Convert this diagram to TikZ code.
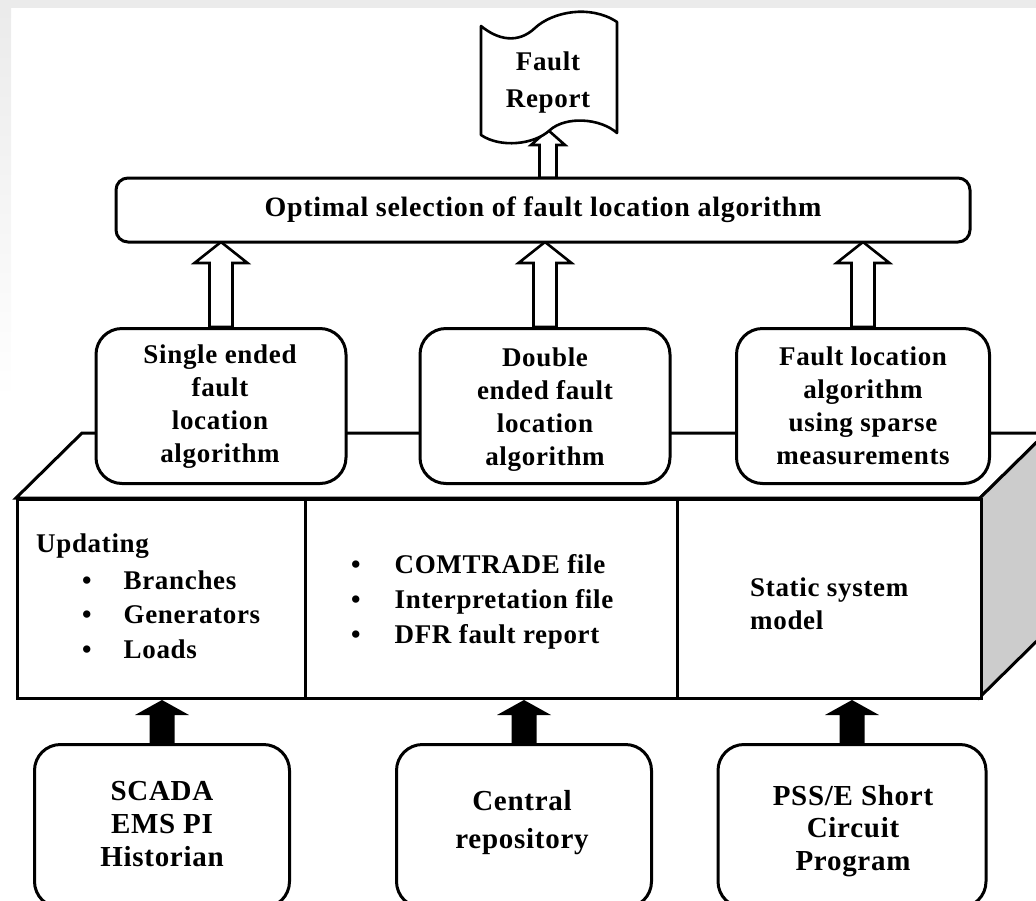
\documentclass[tikz,border=0pt]{standalone}
\usepackage{fontspec}
\setmainfont{Liberation Serif}[LetterSpace=2.5]
\usetikzlibrary{calc}
\definecolor{sideface}{HTML}{CCCCCC}
\definecolor{margin}{HTML}{EBEBEB}
% centred stack of lines whose reference point is the first baseline
\newcommand\stackc[1]{\begin{tabular}[t]{@{}c@{}}#1\end{tabular}}
\newcommand\stackl[1]{\begin{tabular}[t]{@{}l@{}}#1\end{tabular}}
% bullet list: bullet column, gap, item column
\newcommand\bulletlist[2]{\begin{tabular}[t]{@{}l@{\hspace{#1}}l@{}}#2\end{tabular}}
% block arrow: style, base, tip, body half width, head half width, head length
\newcommand\blockarrow[6]{%
  \path[#1] let \p1=(#2), \p2=(#3) in
    (\x1-#4pt,\y1) -- (\x1-#4pt,\y2-#6pt) -- (\x1-#5pt,\y2-#6pt) -- (\x1,\y2)
    -- (\x1+#5pt,\y2-#6pt) -- (\x1+#4pt,\y2-#6pt) -- (\x1+#4pt,\y1) -- cycle;}
\begin{document}
\begin{tikzpicture}[x=1pt,y=-1pt,
  txt/.style={font=\bfseries\fontsize{27}{33}\selectfont, inner sep=0pt},
  edge/.style={line width=3pt, line join=miter},
  rbox/.style={draw, line width=3pt, fill=white, rounded corners=26pt, inner sep=0pt},
  hollow/.style={draw, line width=2.6pt, fill=white, line join=miter},
  solidarrow/.style={fill=black}]
\useasboundingbox (0,0) rectangle (1036,900);
\clip (0,0) rectangle (1036,900);

% faint margin along the top and left edges
\fill[margin] (0,0) rectangle (1036,8);
\shade[top color=margin, bottom color=white] (0,8) rectangle (11,400);

% the slab: top face, shaded side face, front face
\coordinate (ftl) at (16,498);
\coordinate (ftr) at (980,498);
\coordinate (fbr) at (980,697);
\coordinate (btl) at (82,433);
\coordinate (btr) at (1046,433);
\coordinate (bbr) at (1046,632);
\draw[edge, fill=white] (ftl) -- (btl) -- (btr) -- (ftr) -- cycle;
\draw[edge, fill=sideface] (ftr) -- (btr) -- (bbr) -- (fbr) -- cycle;
\node[draw, line width=3pt, fill=white, inner sep=0pt, minimum width=964pt,
      minimum height=199pt, anchor=north west] (front) at (ftl) {};
\draw[edge] (305,498) -- (305,697);
\draw[edge] (677,498) -- (677,697);

% algorithm boxes standing on the slab
\coordinate (a1) at (221,327);
\coordinate (a2) at (545,327);
\coordinate (a3) at (863,327);
\blockarrow{hollow}{a1}{a1 |- 0,242}{11.5}{26.5}{21}
\blockarrow{hollow}{a2}{a2 |- 0,242}{11.5}{26.5}{21}
\blockarrow{hollow}{a3}{a3 |- 0,242}{11.5}{26.5}{21}
\node[rbox, minimum width=250pt, minimum height=155pt, anchor=north] (alg1) at (a1) {};
\node[rbox, minimum width=250pt, minimum height=155pt, anchor=north] (alg2) at (a2) {};
\node[rbox, minimum width=253pt, minimum height=155pt, anchor=north] (alg3) at (a3) {};

% report arrow and selection box
\coordinate (reptip) at (548,130);
\blockarrow{hollow}{548,178}{reptip}{8.5}{17}{15}
\node[rbox, rounded corners=12pt, minimum width=854pt, minimum height=64pt] (opt) at (543,210) {};

% fault report document
\draw[line width=2.6pt, fill=white, line join=round]
  (481,26) .. controls (498,40) and (518,44) .. (535,28)
  .. controls (552,12) and (590,4) .. (617,22) -- (617,133)
  .. controls (600,118) and (566,116) .. (550,130)
  .. controls (534,145) and (500,148) .. (481,135) -- cycle;

% data sources below the slab
\coordinate (s1) at (162,743);
\coordinate (s2) at (524,743);
\coordinate (s3) at (852,743);
\blockarrow{solidarrow}{s1}{s1 |- front.south}{12.5}{27}{15}
\blockarrow{solidarrow}{s2}{s2 |- front.south}{12.5}{27}{15}
\blockarrow{solidarrow}{s3}{s3 |- front.south}{12.5}{27}{15}
\node[rbox, minimum width=255pt, minimum height=163pt, anchor=north] (src1) at (s1) {};
\node[rbox, minimum width=255pt, minimum height=163pt, anchor=north] (src2) at (s2) {};
\node[rbox, minimum width=268pt, minimum height=163pt, anchor=north] (src3) at (s3) {};

% texts
\node[txt, font=\bfseries\fontsize{27}{37}\selectfont, anchor=base] (reptext) at (548,70)
  {\stackc{Fault\\Report}};
\node[txt, font=\bfseries\fontsize{28}{33}\selectfont, anchor=base] (opttext) at (543,216)
  {Optimal selection of fault location algorithm};
\node[txt, anchor=base] (alg1text) at (220,363) {\stackc{Single ended\\fault\\location\\algorithm}};
\node[txt, anchor=base] (alg2text) at (545,366) {\stackc{Double\\ended fault\\location\\algorithm}};
\node[txt, anchor=base] (alg3text) at (863,365) {\stackc{Fault location\\algorithm\\using sparse\\measurements}};

\node[txt, anchor=base west] (updtext) at (36,552) {Updating};
\node[txt, font=\bfseries\fontsize{27}{34.5}\selectfont, anchor=base west] (cell1text) at (82,589)
  {\bulletlist{32pt}{\textbullet & Branches\\ \textbullet & Generators\\ \textbullet & Loads}};
\node[txt, font=\bfseries\fontsize{27}{35}\selectfont, anchor=base west] (cell2text) at (351,573)
  {\bulletlist{34pt}{\textbullet & COMTRADE file\\ \textbullet & Interpretation file\\ \textbullet & DFR fault report}};
\node[txt, anchor=base west] (cell3text) at (750,596) {\stackl{Static system\\model}};

\node[txt, font=\bfseries\fontsize{29}{33}\selectfont, anchor=base] (src1text) at (162,800)
  {\stackc{SCADA\\EMS PI\\Historian}};
\node[txt, font=\bfseries\fontsize{29}{38}\selectfont, anchor=base] (src2text) at (522,810)
  {\stackc{Central\\repository}};
\node[txt, font=\bfseries\fontsize{29}{32.5}\selectfont, anchor=base] (src3text) at (853,805)
  {\stackc{PSS/E Short\\Circuit\\Program}};
\end{tikzpicture}
\end{document}
